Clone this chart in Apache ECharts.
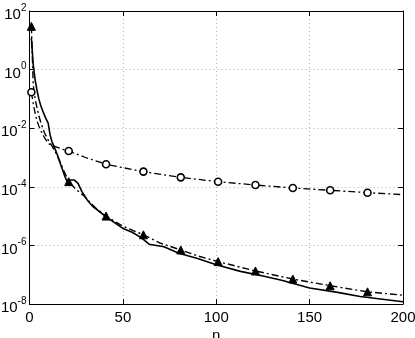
<!DOCTYPE html>
<html>
<head>
<meta charset="utf-8">
<script src="https://cdn.jsdelivr.net/npm/echarts@6/dist/echarts.min.js"></script>
<style>html,body{margin:0;padding:0;background:#fff}#c{width:415px;height:338px}</style>
</head>
<body>
<div id="c"></div>
<script>
// x ticks and y tick exponents
const xTicks = [0, 50, 100, 150, 200];
const yTickExps = [-8, -6, -4, -2, 0, 2];
const markerN = [1, 21, 41, 61, 81, 101, 121, 141, 161, 181];

// solid line
const solidN = [1, 2, 3, 4, 5, 6, 7, 8, 9, 10, 11, 12, 13, 15, 17, 19, 20, 22, 24, 26, 28, 31, 34, 41, 50, 55, 60, 64, 72, 80, 90, 100, 113, 125, 135, 150, 165, 177, 200];
const solidV = [12, 1.5, 0.45, 0.2, 0.1, 0.06, 0.04, 0.028, 0.02, 0.015, 0.006, 0.0035, 0.0025, 0.0012, 0.0005, 0.00022, 0.00016, 0.00017, 0.00017, 0.00013, 0.00007, 0.000035, 0.000021, 0.0000095, 0.0000038, 0.0000028, 0.0000018, 0.0000011, 0.0000009, 5.4e-7, 3.6e-7, 2.2e-7, 1.3e-7, 9e-8, 6.5e-8, 3.5e-8, 2.5e-8, 1.8e-8, 1.2e-8];

// dash-dot with filled triangles
const triN = [1, 2, 3, 4, 5, 6, 8, 10, 12, 14, 16, 18, 21, 25, 29, 35, 41, 50, 61, 70, 81, 90, 101, 121, 141, 161, 181, 200];
const triV = [30, 0.3, 0.1, 0.05, 0.027, 0.016, 0.007, 0.004, 0.0025, 0.0015, 0.0008, 0.0004, 0.00015, 0.00008, 0.00005, 0.00002, 0.00001, 0.0000045, 0.0000023, 0.0000012, 7e-7, 4.4e-7, 2.8e-7, 1.34e-7, 7.1e-8, 4.2e-8, 2.6e-8, 2.0e-8];

// dash-dot with open circles
const circN = [1, 2, 3, 4, 5, 6, 7, 8, 10, 12, 15, 18, 21, 30, 41, 50, 61, 81, 101, 121, 141, 161, 181, 200];
const circV = [0.168, 0.07, 0.033, 0.018, 0.012, 0.0085, 0.0062, 0.0048, 0.003, 0.0026, 0.0022, 0.0019, 0.00166, 0.001, 0.00059, 0.00045, 0.00033, 0.00021, 0.000149, 0.000115, 0.000091, 0.000076, 0.000063, 0.000054];

const FONT = 'Liberation Sans';

function build(ns, vs, withMarkers) {
  return ns.map((n, i) => {
    const item = { value: [n, vs[i]] };
    if (!withMarkers || markerN.indexOf(n) < 0) item.symbol = 'none';
    return item;
  });
}

const chart = echarts.init(document.getElementById('c'), null, { renderer: 'canvas' });

const gridLine = { show: true, lineStyle: { color: '#b0b0b0', type: [1, 3], width: 1 } };

chart.setOption({
  animation: false,
  backgroundColor: '#fff',
  grid: { left: 29.5, right: 12, top: 11, bottom: 34, containLabel: false, outerBoundsMode: 'none' },
  xAxis: [{
    type: 'value', min: xTicks[0], max: xTicks[xTicks.length - 1], interval: 50,
    name: 'n', nameLocation: 'middle', nameGap: 24, nameMoveOverlap: false,
    nameTextStyle: { fontFamily: FONT, fontSize: 15, color: '#000' },
    axisLine: { show: true, lineStyle: { color: '#000', width: 1 } },
    axisTick: { show: true, inside: true, length: 5, lineStyle: { color: '#000' } },
    axisLabel: { fontFamily: FONT, fontSize: 15, color: '#000', margin: 6 },
    splitLine: gridLine
  }, {
    type: 'value', position: 'top', min: xTicks[0], max: xTicks[xTicks.length - 1], interval: 50,
    axisLine: { show: true, onZero: false, lineStyle: { color: '#000', width: 1 } },
    axisTick: { show: true, inside: true, length: 5, lineStyle: { color: '#000' } },
    axisLabel: { show: false }, splitLine: { show: false }
  }],
  yAxis: [{
    type: 'log', logBase: 10, min: Math.pow(10, yTickExps[0]), max: Math.pow(10, yTickExps[yTickExps.length - 1]), interval: 2,
    axisLine: { show: true, lineStyle: { color: '#000', width: 1 } },
    axisTick: { show: true, inside: true, length: 5, lineStyle: { color: '#000' } },
    minorTick: { show: false },
    axisLabel: {
      margin: 3,
      formatter: function (v) {
        const e = Math.round(Math.log10(v));
        return '{b|10}{e|' + e + '}';
      },
      rich: {
        b: { fontFamily: FONT, fontSize: 15, color: '#000', padding: [8, 0, 0, 0] },
        e: { fontFamily: FONT, fontSize: 10, color: '#000', padding: [0, 0, 6, 0] }
      }
    },
    splitLine: gridLine
  }, {
    type: 'log', logBase: 10, position: 'right', min: Math.pow(10, yTickExps[0]), max: Math.pow(10, yTickExps[yTickExps.length - 1]), interval: 2,
    axisLine: { show: true, onZero: false, lineStyle: { color: '#000', width: 1 } },
    axisTick: { show: true, inside: true, length: 5, lineStyle: { color: '#000' } },
    axisLabel: { show: false }, splitLine: { show: false }
  }],
  series: [{
    type: 'line', name: 'solid', data: build(solidN, solidV, false), symbol: 'none', smooth: false,
    lineStyle: { color: '#000', width: 1.6, type: 'solid' }, z: 3
  }, {
    type: 'line', name: 'tri', data: build(triN, triV, true), symbol: 'triangle', symbolSize: 8,
    itemStyle: { color: '#000', borderColor: '#000', borderWidth: 1 },
    lineStyle: { color: '#000', width: 1.4, type: [7, 3, 2, 3] }, z: 4
  }, {
    type: 'line', name: 'circ', data: build(circN, circV, true), symbol: 'circle', symbolSize: 7,
    itemStyle: { color: '#fff', borderColor: '#000', borderWidth: 1.6 },
    lineStyle: { color: '#000', width: 1.3, type: [7, 3, 2, 3] }, z: 5
  }]
});
</script>
</body>
</html>
